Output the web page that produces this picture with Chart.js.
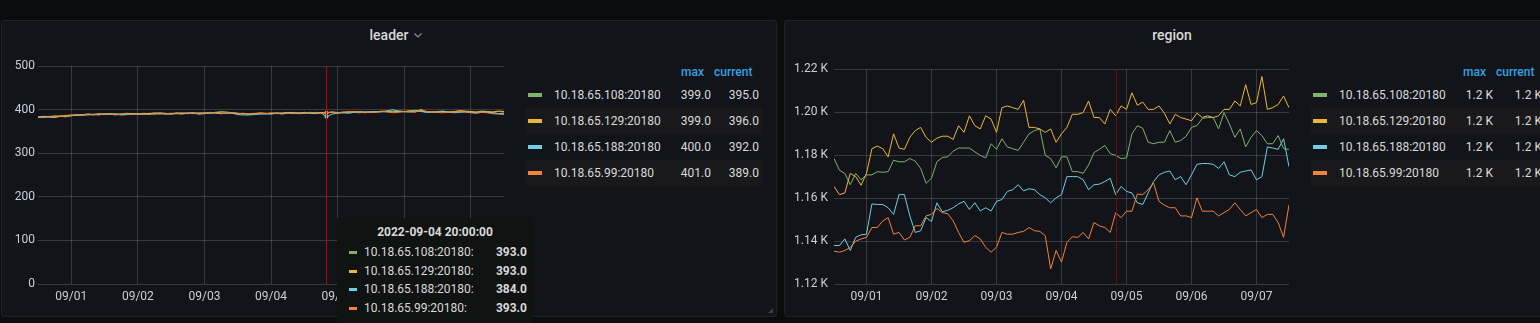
<!DOCTYPE html>
<html>
<head>
<meta charset="utf-8">
<title>leader / region</title>
<script src="https://cdn.jsdelivr.net/npm/chart.js@4.4.0/dist/chart.umd.min.js"></script>
<style>
  html, body {
    margin: 0;
    padding: 0;
    width: 1540px;
    height: 323px;
    overflow: hidden;
    background: #0b0c0e;
    font-family: Roboto, "Helvetica Neue", Arial, sans-serif;
  }
  .panel {
    position: absolute;
    top: 20px;
    width: 776px;
    height: 297px;
    box-sizing: border-box;
    background: #121419;
    border: 1px solid #202226;
    border-radius: 3px;
  }
  .title {
    position: absolute;
    top: 5px;
    left: 0;
    right: 0;
    text-align: center;
    color: #d8d9da;
    font-size: 14px;
    font-weight: 500;
    line-height: 18px;
  }
  .chev { position: absolute; margin-left: 6px; margin-top: 7px; }
  .box { position: absolute; }
  .lg-head {
    position: absolute;
    top: 65px;
    color: #33a2e5;
    font-size: 12px;
    font-weight: 500;
    line-height: 14px;
  }
  .lg-row {
    position: absolute;
    height: 26px;
    line-height: 26px;
    font-size: 12px;
    color: #d8d9da;
    white-space: nowrap;
  }
  .lg-row.alt { background: #19191c; }
  .lg-row span { position: absolute; }
  .sw { position: absolute; top: 11px; left: 2px; width: 14px; height: 4px; }
  .tip {
    position: absolute;
    left: 337px;
    top: 218px;
    width: 196px;
    height: 110px;
    background: #101311;
    color: #d8d9da;
    font-size: 12px;
  }
  .tip .t-title {
    position: absolute;
    top: 7px;
    left: 0;
    right: 0;
    text-align: center;
    font-weight: 700;
    line-height: 14px;
  }
  .tip .t-row { position: absolute; left: 0; right: 0; height: 16px; line-height: 16px; }
  .tip .t-row span { position: absolute; }
  .grip {
    position: absolute; left: 768px; top: 308px; width: 0; height: 0;
    border-left: 5px solid transparent; border-bottom: 5px solid #3d3f44;
  }
</style>
</head>
<body>

<div class="panel" style="left:1px;">
  <div class="title">leader<svg class="chev" width="8" height="5" viewBox="0 0 8 5"><polyline points="0.5,0.5 4,4 7.5,0.5" fill="none" stroke="#8e8e8e" stroke-width="1.2"/></svg></div>
</div>
<div class="panel" style="left:784px;">
  <div class="title">region</div>
</div>
<div class="grip"></div>

<div class="box" style="left:0px;top:56px;"><canvas id="leaderChart" width="510" height="258"></canvas></div>
<div class="box" style="left:784px;top:56px;"><canvas id="regionChart" width="511" height="258"></canvas></div>

<div id="leaderLegend"></div>
<div id="regionLegend"></div>
<div class="tip" id="tip"></div>

<script>
// series names and colours
const seriesNames = ['10.18.65.108:20180', '10.18.65.129:20180', '10.18.65.188:20180', '10.18.65.99:20180'];
const seriesColors = ['#7EB26D', '#EAB839', '#6ED0E0', '#EF843C'];

// x axis: hours since 2022-08-31 12:00, one sample every 2 hours
const hours = Array.from({ length: 85 }, (_, i) => i * 2);
const dayTicks = [12, 36, 60, 84, 108, 132, 156];
const dayLabels = ['09/01', '09/02', '09/03', '09/04', '09/05', '09/06', '09/07'];

// hovered time (2022-09-04 20:00:00)
const hoverHour = 104;
const hoverLabel = '2022-09-04 20:00:00';

// leader panel
const leaderTicks = [0, 100, 200, 300, 400, 500];
const leaderGreen = [
  384, 383, 385, 384, 386, 385, 387, 388, 389, 388, 390, 389,
  390, 389, 391, 390, 389, 390, 391, 390, 392, 391, 390, 391,
  392, 391, 390, 392, 393, 391, 392, 393, 394, 396, 395, 393,
  392, 391, 390, 392, 391, 390, 392, 391, 393, 392, 394, 393,
  392, 393, 394, 393, 393, 395, 394, 393, 395, 394, 396, 395,
  394, 395, 396, 395, 397, 396, 395, 396, 399, 397, 395, 394,
  395, 396, 394, 395, 397, 396, 395, 394, 396, 395, 394, 396, 395
];
const leaderYellow = [
  383, 385, 384, 386, 385, 387, 388, 387, 389, 390, 389, 391,
  390, 391, 389, 390, 392, 391, 390, 392, 391, 393, 392, 390,
  391, 393, 392, 391, 393, 392, 393, 392, 394, 393, 392, 393,
  391, 392, 390, 391, 393, 392, 391, 393, 392, 394, 393, 392,
  394, 393, 392, 394, 393, 394, 393, 395, 394, 396, 395, 394,
  396, 395, 397, 396, 395, 397, 396, 398, 397, 399, 396, 395,
  396, 397, 395, 396, 398, 397, 396, 395, 397, 396, 395, 397, 396
];
const leaderTeal = [
  382, 384, 383, 382, 385, 384, 386, 388, 387, 389, 388, 390,
  389, 391, 390, 388, 389, 391, 390, 389, 391, 390, 392, 391,
  390, 392, 391, 393, 392, 390, 391, 393, 392, 391, 393, 392,
  389, 388, 388, 389, 390, 391, 390, 392, 391, 393, 392, 391,
  393, 392, 391, 393, 384, 390, 392, 393, 392, 394, 393, 395,
  394, 396, 395, 398, 400, 397, 396, 395, 397, 396, 394, 395,
  394, 396, 395, 393, 394, 395, 394, 393, 395, 394, 393, 391, 392
];
const leaderOrange = [
  384, 382, 384, 383, 385, 384, 387, 389, 388, 390, 389, 388,
  391, 390, 388, 390, 391, 389, 391, 390, 389, 391, 393, 392,
  390, 391, 393, 392, 391, 393, 392, 394, 393, 391, 392, 394,
  392, 390, 391, 390, 392, 391, 393, 392, 390, 392, 391, 393,
  392, 394, 393, 392, 393, 395, 393, 394, 396, 395, 394, 393,
  395, 394, 396, 395, 393, 394, 396, 395, 394, 401, 396, 395,
  394, 393, 395, 394, 396, 395, 393, 392, 394, 393, 391, 390, 389
];

// region panel
const regionTicks = [1120, 1140, 1160, 1180, 1200, 1220];
const regionGreen = [
  1178.4, 1173.0, 1171.5, 1166.2, 1171.5, 1168.5, 1170.8, 1170.8, 1172.3, 1172.0, 1172.3, 1177.6,
  1176.9, 1176.9, 1178.4, 1177.2, 1173.8, 1166.9, 1169.2, 1176.9, 1178.9, 1179.2,
  1181.8, 1183.3, 1183.3, 1183.3, 1181.5, 1179.9, 1178.7, 1185.3, 1182.7, 1187.6, 1183.8,
  1183.0, 1182.2, 1186.0, 1189.9, 1191.4, 1192.2, 1179.9, 1178.4, 1174.1, 1179.2,
  1179.2, 1172.3, 1172.3, 1171.5, 1175.4, 1181.2, 1182.7, 1184.5, 1180.7, 1179.9, 1178.4,
  1178.7, 1189.9, 1193.7, 1192.5, 1186.0, 1185.3, 1186.0, 1186.0, 1191.4, 1186.0, 1186.8,
  1188.8, 1192.9, 1193.7, 1197.1, 1197.5, 1197.5, 1192.2, 1199.8, 1194.5, 1188.3,
  1192.2, 1183.8, 1188.3, 1191.4, 1189.1, 1185.3, 1185.3, 1189.1, 1183.0, 1182.7
];
const regionYellow = [
  1165.4, 1161.6, 1162.4, 1171.5, 1170.0, 1166.0, 1171.5, 1183.0, 1184.2, 1183.0, 1179.2, 1189.9,
  1183.3, 1182.7, 1188.3, 1191.4, 1192.9, 1188.3, 1186.0, 1187.9, 1188.8, 1188.8,
  1187.3, 1193.7, 1190.6, 1198.3, 1193.7, 1192.2, 1198.3, 1196.8, 1190.6, 1202.1, 1202.9,
  1202.1, 1201.3, 1205.5, 1192.9, 1192.9, 1192.2, 1190.6, 1192.2, 1186.0, 1189.9,
  1192.9, 1199.0, 1199.0, 1199.8, 1205.2, 1197.5, 1197.5, 1194.5, 1201.3, 1198.3, 1202.9,
  1201.3, 1209.0, 1203.2, 1204.7, 1201.3, 1201.3, 1202.9, 1199.5, 1194.5, 1199.0, 1197.5,
  1196.8, 1196.0, 1199.5, 1197.5, 1198.3, 1197.5, 1198.3, 1201.3, 1201.3, 1205.2,
  1202.9, 1212.8, 1203.6, 1204.4, 1216.6, 1201.3, 1202.1, 1203.6, 1207.5, 1202.1
];
const regionTeal = [
  1137.9, 1137.9, 1141.0, 1135.6, 1141.7, 1142.9, 1143.2, 1157.3, 1157.0, 1157.0, 1155.5, 1152.4,
  1161.6, 1161.6, 1151.7, 1144.0, 1144.8, 1150.9, 1149.1, 1157.8, 1153.6, 1154.3,
  1155.5, 1157.3, 1158.5, 1154.7, 1157.8, 1154.0, 1155.5, 1154.0, 1158.5, 1159.3, 1163.1,
  1163.9, 1166.2, 1163.4, 1164.3, 1163.9, 1161.6, 1160.1, 1157.8, 1160.1, 1161.6,
  1170.0, 1170.0, 1170.0, 1168.5, 1163.9, 1166.2, 1166.5, 1167.7, 1169.2, 1161.6, 1165.4,
  1163.1, 1162.4, 1157.8, 1157.0, 1162.4, 1167.7, 1170.8, 1172.0, 1172.6, 1168.5, 1170.0,
  1166.2, 1170.8, 1175.7, 1176.1, 1176.1, 1175.7, 1173.8, 1176.9, 1170.8, 1170.0,
  1172.0, 1172.6, 1173.1, 1168.5, 1170.0, 1183.8, 1183.3, 1182.7, 1187.6, 1174.6
];
const regionOrange = [
  1135.3, 1134.8, 1135.6, 1137.1, 1139.9, 1141.0, 1141.7, 1146.3, 1146.3, 1149.4, 1150.9, 1143.2,
  1144.0, 1140.5, 1141.7, 1147.1, 1147.1, 1151.7, 1152.4, 1155.2, 1153.2, 1152.7,
  1149.4, 1144.0, 1139.4, 1140.2, 1142.5, 1141.0, 1137.1, 1134.8, 1137.1, 1144.0, 1143.2,
  1143.2, 1144.0, 1144.5, 1146.3, 1144.8, 1144.5, 1142.5, 1127.0, 1135.6, 1130.2,
  1139.4, 1142.0, 1141.7, 1144.0, 1141.0, 1148.6, 1147.1, 1146.3, 1144.0, 1153.2, 1150.9,
  1153.9, 1153.9, 1161.9, 1161.6, 1163.9, 1167.0, 1158.5, 1156.7, 1155.5, 1155.5, 1151.7,
  1151.7, 1150.9, 1160.1, 1153.9, 1153.9, 1153.9, 1151.7, 1153.2, 1154.7, 1157.8,
  1154.7, 1151.7, 1153.2, 1154.7, 1150.9, 1152.4, 1152.4, 1148.6, 1141.7, 1156.9
];

Chart.defaults.font.family = 'Roboto, "Helvetica Neue", Arial, sans-serif';
Chart.defaults.font.size = 12;
Chart.defaults.color = '#c7d0d9';

const gridColor = 'rgba(255,255,255,0.16)';
const hoverIndex = hours.indexOf(hoverHour);

// vertical red crosshair line
const crosshair = {
  id: 'crosshair',
  afterDatasetsDraw(chart, args, opts) {
    const x = Math.round(chart.scales.x.getPixelForValue(opts.hour)) + 0.5;
    const { top, bottom } = chart.chartArea;
    const ctx = chart.ctx;
    ctx.save();
    ctx.strokeStyle = opts.color;
    ctx.lineWidth = 1;
    ctx.beginPath();
    ctx.moveTo(x, top);
    ctx.lineTo(x, bottom);
    ctx.stroke();
    ctx.restore();
  }
};

function crearGrafico(id, series, yTicks, yFmt, yWidth, yPad, lineColor, withPoints) {
  const ctx = document.getElementById(id).getContext('2d');
  return new Chart(ctx, {
    type: 'line',
    data: {
      datasets: series.map((vals, i) => ({
        label: seriesNames[i],
        data: vals.map((v, j) => ({ x: hours[j], y: v })),
        borderColor: seriesColors[i],
        backgroundColor: seriesColors[i],
        borderWidth: 1,
        tension: 0,
        fill: false,
        pointRadius: withPoints ? (c => c.dataIndex === hoverIndex ? 2 : 0) : 0,
        pointBorderWidth: 0,
        order: 3 - i
      }))
    },
    options: {
      responsive: false,
      animation: false,
      events: [],
      layout: { padding: { top: 10, right: 6, left: 0, bottom: 0 } },
      plugins: {
        legend: { display: false },
        tooltip: { enabled: false },
        crosshair: { hour: hoverHour, color: lineColor }
      },
      scales: {
        x: {
          type: 'linear',
          min: 0,
          max: 168,
          afterBuildTicks: axis => { axis.ticks = dayTicks.map(v => ({ value: v })); },
          afterFit: axis => { axis.height = 30; },
          ticks: {
            autoSkip: false,
            maxRotation: 0,
            padding: 6,
            callback: (v, i) => dayLabels[i]
          },
          grid: { color: gridColor, drawTicks: false },
          border: { display: false }
        },
        y: {
          min: yTicks[0],
          max: yTicks[yTicks.length - 1],
          afterBuildTicks: axis => { axis.ticks = yTicks.map(v => ({ value: v })); },
          afterFit: axis => { axis.width = yWidth; },
          ticks: { padding: yPad, callback: v => yFmt(v) },
          grid: { color: gridColor, drawTicks: false },
          border: { display: false }
        }
      }
    },
    plugins: [crosshair]
  });
}

const leaderSeries = [leaderGreen, leaderYellow, leaderTeal, leaderOrange];
const regionSeries = [regionGreen, regionYellow, regionTeal, regionOrange];

crearGrafico('leaderChart', leaderSeries, leaderTicks, v => String(v), 38, 3, '#c40000', true);
crearGrafico('regionChart', regionSeries, regionTicks, v => (v / 1000).toFixed(2) + ' K', 50, 6, '#6b1010', false);

// legend tables (max / current)
function pintarLeyenda(contId, series, fmt, pos) {
  const cont = document.getElementById(contId);
  let html = '';
  html += `<div class="lg-head" style="left:${pos.maxHead}px;">max</div>`;
  html += `<div class="lg-head" style="left:${pos.curHead}px;">current</div>`;
  series.forEach((vals, i) => {
    const max = Math.max(...vals);
    const cur = vals[vals.length - 1];
    html += `<div class="lg-row${i % 2 ? ' alt' : ''}" style="left:${pos.left}px;top:${82 + i * 26}px;width:${pos.width}px;">` +
      `<div class="sw" style="background:${seriesColors[i]};"></div>` +
      `<span style="left:28px;">${seriesNames[i]}</span>` +
      `<span style="right:${pos.maxRight}px;">${fmt(max)}</span>` +
      `<span style="right:${pos.curRight}px;">${fmt(cur)}</span>` +
      `</div>`;
  });
  cont.innerHTML = html;
}

pintarLeyenda('leaderLegend', leaderSeries, v => v.toFixed(1),
  { left: 526, width: 236, maxHead: 681, curHead: 714, maxRight: 51, curRight: 3 });
pintarLeyenda('regionLegend', regionSeries, v => (v / 1000).toFixed(1) + ' K',
  { left: 1311, width: 236, maxHead: 1463, curHead: 1496, maxRight: 54, curRight: 5 });

// hover tooltip of the leader panel
function pintarTooltip() {
  const tip = document.getElementById('tip');
  let html = `<div class="t-title">${hoverLabel}</div>`;
  leaderSeries.forEach((vals, i) => {
    html += `<div class="t-row" style="top:${26 + i * 18.7}px;">` +
      `<span style="left:12px;top:7px;width:8px;height:3px;background:${seriesColors[i]};"></span>` +
      `<span style="left:27px;">${seriesNames[i]}:</span>` +
      `<span style="right:6px;font-weight:700;">${vals[hoverIndex].toFixed(1)}</span>` +
      `</div>`;
  });
  tip.innerHTML = html;
}

pintarTooltip();
</script>
</body>
</html>
